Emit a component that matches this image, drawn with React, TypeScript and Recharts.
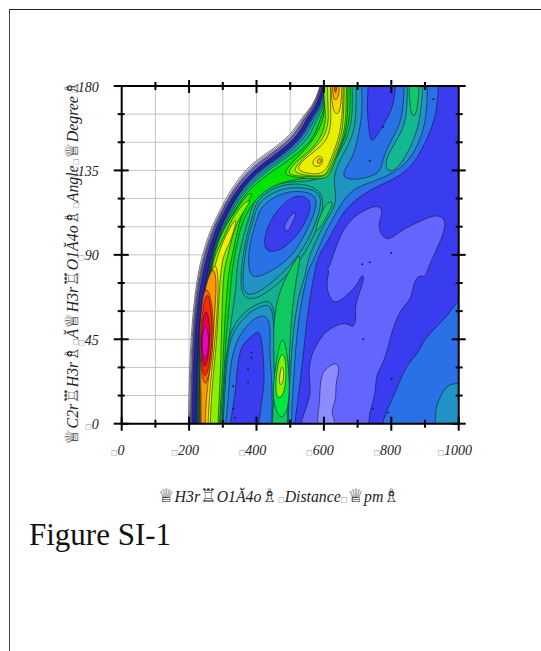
import { CartesianGrid, ScatterChart, Scatter, XAxis, YAxis } from 'recharts';

type Pt = [number, number];

const xTicks = [0, 100, 200, 300, 400, 500, 600, 700, 800, 900, 1000];
const yTicks = [0, 15, 30, 45, 60, 75, 90, 105, 120, 135, 150, 165, 180];

const xTitleParts = ['♕', 'H3r', '♖', 'O1Ă4o', '♗', '▫', 'Distance', '▫', '♕', 'pm', '♗'];
const yTitleParts = ['♕', 'C2r', '♖', 'H3r', '♗', '▫', 'Ă', '♕', 'H3r', '♖', 'O1Ă4o', '♗', '▫', 'Angle', '▫', '♕', 'Degree', '♗'];

// angle rows shared by the left edge of every contour that follows the wall
const edgeAngles = [-5, 20, 36, 57, 76, 89, 103, 114, 124, 134, 140, 149, 156, 163, 167, 172, 180, 190];
const wall1Edge = [197, 200, 203, 210, 222, 237, 262, 292, 321, 361, 395, 470, 509, 534, 554, 573, 590, 598];
const wall2Edge = [200, 203, 206, 213, 225, 241, 266, 296, 326, 367, 402, 476, 514, 538, 557, 575, 591, 599];
const wall3Edge = [203, 206, 209, 215, 228, 244, 269, 299, 329, 372, 410, 483, 519, 542, 560, 577, 592, 600];
const wall4Edge = [205, 208, 211, 217, 230, 246, 271, 301, 331, 376, 415, 487, 522, 544, 562, 579, 593, 600];
const wall5Edge = [208, 211, 214, 220, 235, 251, 276, 306, 338, 386, 428, 497, 530, 550, 567, 583, 596, 602];
const fieldEdge = [220, 222, 225, 232, 250, 262, 288, 318, 350, 398, 445, 512, 540, 560, 577, 590, 600, 606];
const steelEdge = [221, 223, 226, 233, 251, 263, 289, 319, 351, 401, 450, 516, 544, 563, 580, 592, 602, 607];
const tealEdge = [222, 224, 227, 234, 253, 264, 290, 320, 353, 405, 455, 520, 548, 566, 583, 594, 603, 608];
const aquaEdge = [224, 226, 229, 236, 255, 266, 293, 325, 358, 415, 465, 528, 556, 572, 588, 598, 606, 611];
const greenEdge = [226, 228, 231, 238, 257, 268, 296, 330, 365, 425, 475, 540, 565, 580, 594, 602, 610, 615];
const limeEdge = [228, 230, 233, 240, 259, 270, 300, 336, 372, 440, 495, 555, 578, 590, 600, 606, 614, 618];

const farRight: Pt[] = [[1400, 205], [1400, -20]];

const steelRight: Pt[] = [[945, 205], [945, 190], [939, 178], [934, 165], [910, 153], [865, 137], [806, 130], [737, 125], [677, 117], [648, 110], [608, 96], [583, 90], [569, 78], [554, 62], [544, 46], [529, 21], [514, 1], [510, -5], [510, -20]];
const tealRight: Pt[] = [[905, 205], [905, 190], [910, 162], [865, 142], [806, 133], [727, 128], [687, 125], [657, 119], [628, 110], [598, 100], [568, 86], [554, 83], [534, 66], [519, 48], [509, 21], [503, 1], [503, -20]];
const aquaRight: Pt[] = [[695, 205], [695, 190], [697, 165], [687, 153], [648, 141], [628, 132], [633, 125], [638, 117], [608, 109], [578, 98], [554, 89], [544, 78], [529, 71], [514, 57], [504, 39], [497, 18], [494, 1], [494, -20]];
const greenRight: Pt[] = [[682, 205], [682, 190], [687, 165], [672, 153], [638, 142], [613, 135], [598, 131], [549, 129], [470, 129], [400, 123], [381, 112], [361, 100], [348, 90], [340, 80], [341, 75], [331, 62], [319, 48], [306, 21], [297, 1], [297, -20]];
const limeRight: Pt[] = [[677, 205], [677, 190], [680, 165], [665, 153], [635, 142], [608, 134], [560, 131], [500, 130], [420, 125], [366, 112], [346, 100], [335, 90], [325, 78], [318, 60], [310, 48], [302, 21], [292, 1], [292, -20]];

const periwinkle: Pt[] = [[766, 117], [776, 112], [756, 105], [786, 96], [826, 103], [875, 107], [934, 112], [964, 109], [954, 100], [910, 84], [900, 77], [885, 80], [865, 75], [860, 66], [831, 62], [806, 52], [791, 41], [776, 32], [752, 25], [756, 18], [737, 7], [732, 1], [732, -20], [525, -20], [525, -5], [539, 5], [564, 16], [554, 25], [559, 36], [588, 45], [608, 50], [667, 55], [687, 50], [697, 57], [692, 60], [697, 66], [722, 78], [712, 80], [697, 73], [658, 67], [628, 63], [603, 73], [618, 82], [608, 82], [618, 84], [638, 96], [667, 107], [717, 114]];
const lavender: Pt[] = [[588, 9], [588, 25], [608, 30], [638, 33], [648, 29], [633, 21], [638, 13], [618, 6], [638, 1], [633, -20], [590, -20], [578, 4]];
const cornerSteel: Pt[] = [[1400, 70], [1005, 68], [985, 62], [954, 55], [895, 45], [880, 37], [845, 32], [806, 14], [781, 5], [766, -5], [766, -20], [1400, -20]];
const cornerTeal: Pt[] = [[1400, 22], [1005, 22], [965, 21], [944, 14], [930, 8], [930, -5], [930, -20], [1400, -20]];

const steelPatch: Pt[] = [[838, 205], [838, 190], [838, 164], [806, 153], [774, 142], [771, 134], [727, 131], [687, 130], [658, 131], [658, 135], [687, 142], [702, 153], [714, 165], [712, 178], [712, 190], [712, 205]];
const topBlue: Pt[] = [[735, 205], [735, 190], [727, 169], [732, 160], [738, 149], [756, 153], [786, 162], [811, 171], [815, 190], [815, 205]];
const lobeGreen: Pt[] = [[846, 205], [846, 190], [850, 162], [816, 151], [781, 141], [786, 134], [816, 135], [855, 146], [890, 162], [895, 190], [895, 205]];
const lobeInner: Pt[] = [[850, 205], [850, 190], [855, 167], [865, 163], [880, 167], [885, 190], [885, 205]];

const lowerAqua: Pt[] = [[296, -20], [296, -5], [302, 12], [306, 30], [318, 48], [350, 57], [381, 62], [430, 66], [452, 64], [460, 45], [460, -5], [460, -20]];
const lowerTeal: Pt[] = [[297, -20], [297, -5], [306, 12], [309, 30], [321, 46], [351, 54], [381, 60], [430, 64], [448, 62], [455, 45], [455, 20], [455, -5], [455, -20]];
const lowerSteel: Pt[] = [[304, -20], [304, -5], [316, 11], [321, 30], [336, 43], [371, 53], [410, 58], [435, 57], [442, 50], [438, 37], [448, 20], [445, -5], [445, -20]];
const lowerBlue: Pt[] = [[321, -20], [321, 2], [336, 13], [341, 27], [351, 41], [381, 46], [405, 50], [415, 46], [420, 36], [425, 21], [410, 7], [396, -20]];

const holeAqua: Pt[] = [[350, 72], [368, 66], [410, 67], [475, 76], [525, 86], [560, 96], [590, 108], [605, 122], [556, 128], [470, 128], [402, 120], [392, 113], [370, 100], [358, 88]];
const holeTeal: Pt[] = [[356, 73], [371, 68], [410, 70], [470, 79], [519, 88], [554, 98], [583, 110], [598, 122], [554, 126], [470, 126], [405, 118], [396, 112], [376, 100], [365, 90]];
const holeSteel: Pt[] = [[376, 92], [376, 80], [400, 77], [470, 84], [520, 92], [569, 110], [583, 120], [554, 124], [480, 124], [420, 117], [405, 112], [386, 100]];
const holeBlue: Pt[] = [[420, 91], [425, 103], [460, 114], [509, 122], [554, 121], [564, 115], [539, 105], [509, 98], [470, 92]];
const holeIslet: Pt[] = [[478, 104], [490, 108], [510, 113], [520, 112], [505, 107], [495, 102]];
const centerLobe: Pt[] = [[574, 103], [598, 116], [623, 119], [628, 117], [598, 107], [578, 102]];

const lowerGreen: Pt[] = [[445, -20], [445, -5], [450, 10], [455, 20], [452, 30], [450, 50], [455, 60], [470, 72], [510, 86], [535, 92], [520, 80], [505, 60], [498, 40], [495, 20], [490, -5], [490, -20]];
const lowerLime: Pt[] = [[445, 13], [455, 30], [475, 49], [491, 39], [499, 21], [494, 7], [470, 1]];
const lowerYellowGreen: Pt[] = [[455, 15], [460, 30], [475, 39], [489, 34], [487, 18], [470, 13]];
const lowerYellow: Pt[] = [[465, 20], [472, 31], [482, 30], [480, 21]];

const brightLeft: Pt[] = [[229, -20], [229, -5], [231, 20], [234, 36], [241, 57], [260, 76], [271, 89], [298, 103], [340, 114], [375, 123], [392, 123], [365, 116], [345, 105], [331, 92], [316, 80], [308, 60], [304, 48], [298, 21], [289, 1], [289, -20]];
const yellowGreenLeft: Pt[] = [[230, -20], [230, -5], [232, 20], [235, 36], [242, 57], [262, 76], [273, 89], [297, 97], [321, 107], [351, 116], [391, 121], [361, 113], [336, 105], [321, 94], [306, 84], [300, 75], [296, 48], [292, 21], [285, 1], [285, -20]];
const yellowLeft: Pt[] = [[232, -20], [232, -5], [234, 20], [237, 36], [240, 57], [264, 76], [284, 89], [306, 100], [343, 111], [336, 105], [321, 96], [300, 90], [290, 75], [284, 48], [272, 27], [262, 4], [262, -20]];
const amberLeft: Pt[] = [[234, -20], [234, -5], [233, 20], [231, 36], [238, 57], [260, 78], [278, 87], [288, 78], [284, 62], [279, 48], [267, 28], [257, 8], [253, -20]];
const orangeLeft: Pt[] = [[236, -20], [236, -5], [235, 20], [233, 48], [242, 68], [257, 78], [272, 84], [282, 77], [277, 62], [272, 48], [262, 30], [252, 16], [247, 1], [247, -20]];
const vermilionLeft: Pt[] = [[250, 74], [268, 66], [274, 48], [265, 30], [248, 18], [235, 28], [229, 46], [238, 66]];
const redLeft: Pt[] = [[254, 71], [264, 64], [270, 48], [262, 32], [247, 23], [237, 30], [232, 46], [240, 62]];
const crimsonLeft: Pt[] = [[252, 63], [264, 50], [257, 34], [244, 28], [234, 41], [240, 55]];
const magentaLeft: Pt[] = [[249, 54], [260, 46], [256, 38], [244, 32], [238, 41], [240, 48]];

const brightTop: Pt[] = [[470, 132], [505, 139], [555, 148], [585, 156], [603, 165], [600, 175], [600, 205], [672, 205], [672, 165], [662, 153], [636, 142], [620, 133], [598, 130], [549, 131]];
const yellowGreenTop: Pt[] = [[490, 134], [519, 140], [564, 146], [593, 153], [608, 162], [600, 172], [598, 190], [598, 205], [667, 205], [667, 190], [667, 165], [658, 153], [633, 142], [618, 135], [598, 131], [549, 132], [509, 132]];
const paleYellowTop: Pt[] = [[505, 134], [525, 139], [566, 146], [600, 152], [616, 161], [610, 172], [610, 205], [662, 205], [660, 165], [652, 153], [628, 142], [610, 134], [598, 132], [555, 132]];
const yellowTop: Pt[] = [[519, 135], [529, 139], [569, 145], [608, 150], [623, 160], [618, 171], [623, 190], [623, 205], [658, 205], [658, 190], [656, 165], [646, 153], [623, 142], [603, 133], [559, 133]];
const peakOuter: Pt[] = [[564, 140], [588, 144], [600, 140], [588, 137], [569, 137]];
const peakInner: Pt[] = [[577, 140], [588, 142], [594, 140], [586, 138]];
const topOrangeOuter: Pt[] = [[618, 205], [618, 190], [623, 169], [636, 164], [652, 167], [655, 190], [655, 205]];
const topOrange: Pt[] = [[623, 205], [623, 190], [626, 174], [633, 172], [646, 174], [648, 190], [648, 205]];
const topRed: Pt[] = [[630, 205], [630, 190], [631, 176], [638, 176], [641, 190], [641, 205]];

const specks: Pt[] = [[331, 8], [336, 3], [385, 38], [385, 35], [375, 29], [375, 22], [331, 20], [717, 45], [791, 6], [801, 24], [746, 8], [714, 85], [736, 140], [775, 158], [925, 173], [800, 91], [736, 86]];

const frame: Pt[] = [[0, 0], [1000, 0], [1000, 180], [0, 180]];

const zip = (edge: number[]): Pt[] => edge.map((d, i) => [d, edgeAngles[i]] as Pt);
const edgeStart = (edge: number[]): Pt[] => [[edge[0], -20], ...zip(edge), [edge[edge.length - 1], 205]];

const layers: { pts: Pt[]; fill: string }[] = [
  { pts: [...edgeStart(wall1Edge), ...farRight], fill: '#f4f4f8' },
  { pts: [...edgeStart(wall2Edge), ...farRight], fill: '#d4d4e8' },
  { pts: [...edgeStart(wall3Edge), ...farRight], fill: '#a8a8d8' },
  { pts: [...edgeStart(wall4Edge), ...farRight], fill: '#6c6cc0' },
  { pts: [...edgeStart(wall5Edge), ...farRight], fill: '#24249c' },
  { pts: [...edgeStart(fieldEdge), ...farRight], fill: '#3a3cf0' },
  { pts: periwinkle, fill: '#6464ff' },
  { pts: lavender, fill: '#8c8cff' },
  { pts: cornerSteel, fill: '#2a70e6' },
  { pts: cornerTeal, fill: '#2094c4' },
  { pts: [...edgeStart(steelEdge), ...steelRight], fill: '#2a70e6' },
  { pts: [...edgeStart(tealEdge), ...tealRight], fill: '#2094c4' },
  { pts: steelPatch, fill: '#2a70e6' },
  { pts: topBlue, fill: '#3a3cf0' },
  { pts: lobeGreen, fill: '#14b890' },
  { pts: lobeInner, fill: '#12c868' },
  { pts: [...edgeStart(aquaEdge), ...aquaRight], fill: '#14b090' },
  { pts: [...edgeStart(greenEdge), ...greenRight], fill: '#10c860' },
  { pts: lowerAqua, fill: '#14a8a0' },
  { pts: lowerTeal, fill: '#2094c4' },
  { pts: lowerSteel, fill: '#2a70e6' },
  { pts: lowerBlue, fill: '#3a3cf0' },
  { pts: holeAqua, fill: '#14a8a0' },
  { pts: holeTeal, fill: '#2094c4' },
  { pts: holeSteel, fill: '#2a70e6' },
  { pts: holeBlue, fill: '#3a3cf0' },
  { pts: holeIslet, fill: '#6464ff' },
  { pts: centerLobe, fill: '#12c868' },
  { pts: lowerGreen, fill: '#10c860' },
  { pts: lowerLime, fill: '#00e840' },
  { pts: lowerYellowGreen, fill: '#88f000' },
  { pts: lowerYellow, fill: '#d8f020' },
  { pts: [...edgeStart(limeEdge), ...limeRight], fill: '#00e400' },
  { pts: brightLeft, fill: '#40e800' },
  { pts: brightTop, fill: '#40e800' },
  { pts: yellowGreenLeft, fill: '#88f000' },
  { pts: yellowGreenTop, fill: '#88f000' },
  { pts: paleYellowTop, fill: '#c8f000' },
  { pts: yellowLeft, fill: '#f0f000' },
  { pts: yellowTop, fill: '#e8f000' },
  { pts: peakOuter, fill: '#f8e800' },
  { pts: peakInner, fill: '#f8b000' },
  { pts: topOrangeOuter, fill: '#f8d800' },
  { pts: topOrange, fill: '#ffa800' },
  { pts: topRed, fill: '#ff4800' },
  { pts: amberLeft, fill: '#ffd000' },
  { pts: orangeLeft, fill: '#ff9800' },
  { pts: vermilionLeft, fill: '#ff6000' },
  { pts: redLeft, fill: '#ff2800' },
  { pts: crimsonLeft, fill: '#e80050' },
  { pts: magentaLeft, fill: '#f000c0' },
];

const toPoints = (pts: Pt[]) => pts.map(([d, a]) => ({ d, a }));
const NoDot = () => <g />;
const Speck = (p: any) => <circle cx={p.cx} cy={p.cy} r={1} fill="#1a1a50" />;

const tickStyle = { fontFamily: '"Liberation Serif"', fontStyle: 'italic', fontSize: 14, fill: '#222' };

function TickText({ x, y, value, anchor }: { x: number; y: number; value: number; anchor: 'middle' | 'end' }) {
  return (
    <text x={x} y={y} textAnchor={anchor} style={tickStyle}>
      <tspan fontFamily='"DejaVu Sans"' fontStyle="normal" fontSize={7} fill="#888">□</tspan>
      {value}
    </text>
  );
}

function BottomLabel({ x, y, payload }: any) {
  if (payload.value % 200 !== 0) return <g />;
  return <TickText x={x - 4} y={y + 31} value={payload.value} anchor="middle" />;
}

function LeftLabel({ x, y, payload }: any) {
  if (payload.value % 45 !== 0) return <g />;
  return <TickText x={x - 23} y={y + 5.5} value={payload.value} anchor="end" />;
}

const line = (x1: number, y1: number, x2: number, y2: number) => (
  <line x1={x1} y1={y1} x2={x2} y2={y2} stroke="#000" strokeWidth={2} />
);

// tick marks are drawn as series so they sit on top of the filled contours
const BottomMark = ({ cx, cy, d }: any) => (d % 200 === 0 ? line(cx, cy - 7, cx, cy + 7) : line(cx, cy - 4, cx, cy + 4));
const TopMark = ({ cx, cy, d }: any) => (d % 200 === 0 ? line(cx, cy - 6, cx, cy + 7) : line(cx, cy - 4, cx, cy + 4));
const LeftMark = ({ cx, cy, a }: any) => (a % 45 === 0 ? line(cx - 8, cy, cx + 7, cy) : line(cx - 4, cy, cx + 3, cy));
const RightMark = ({ cx, cy, a }: any) => (a % 45 === 0 ? line(cx - 7, cy, cx + 7, cy) : line(cx - 3, cy, cx + 4, cy));

function Title({ parts, ...rest }: { parts: string[]; [k: string]: any }) {
  return (
    <text {...rest} style={{ ...tickStyle, fontSize: 15.8 }}>
      {parts.map((part, i) => {
        if ('♕♖♗'.includes(part)) {
          return <tspan key={i} fontFamily='"DejaVu Sans"' fontStyle="normal" fontSize={18.5}>{part}</tspan>;
        }
        if (part === '▫') {
          return <tspan key={i} fontFamily='"DejaVu Sans"' fontStyle="normal" fontSize={7} fill="#888">□</tspan>;
        }
        return <tspan key={i}>{part}</tspan>;
      })}
    </text>
  );
}

export default function App() {
  const markProps = { xAxisId: 'top', yAxisId: 'right', isAnimationActive: false };
  return (
    <div style={{ position: 'absolute', left: 0, top: 0, width: 541, height: 651, overflow: 'hidden', background: '#fff' }}>
      <div style={{ position: 'absolute', left: 9, top: 9, width: 540, height: 650, borderTop: '1px solid #222', borderLeft: '1px solid #444' }} />
      <ScatterChart
        width={541}
        height={651}
        margin={{ left: 120.7, top: 85, right: 81.3, bottom: 226.3 }}
        style={{ position: 'absolute', left: 0, top: 0 }}
      >
        <XAxis dataKey="d" type="number" domain={[0, 1000]} ticks={xTicks} interval={0} height={1} allowDataOverflow axisLine={false} tickLine={false} tickSize={0} tickMargin={0} tick={BottomLabel} />
        <XAxis dataKey="d" xAxisId="top" orientation="top" type="number" domain={[0, 1000]} ticks={xTicks} height={1} axisLine={false} tickLine={false} tick={false} />
        <YAxis dataKey="a" type="number" domain={[0, 180]} ticks={yTicks} interval={0} width={1} allowDataOverflow axisLine={false} tickLine={false} tickSize={0} tickMargin={0} tick={LeftLabel} />
        <YAxis dataKey="a" yAxisId="right" orientation="right" type="number" domain={[0, 180]} ticks={yTicks} width={1} axisLine={false} tickLine={false} tick={false} />
        <CartesianGrid stroke="#d0d0d0" strokeWidth={1} />
        {layers.map((layer, i) => (
          <Scatter
            key={i}
            data={toPoints(layer.pts)}
            fill={layer.fill}
            line={{ fill: layer.fill, stroke: '#14142c', strokeWidth: 0.7, strokeOpacity: 0.8 }}
            lineJointType="basisClosed"
            shape={NoDot}
            isAnimationActive={false}
          />
        ))}
        <Scatter data={toPoints(specks)} shape={Speck} isAnimationActive={false} />
        <CartesianGrid stroke="#000" strokeOpacity={0.06} strokeWidth={1} />
        <Scatter {...markProps} data={toPoints(frame)} line={{ fill: 'none', stroke: '#000', strokeWidth: 2 }} lineJointType="linearClosed" shape={NoDot} />
        <Scatter {...markProps} data={xTicks.map((d) => ({ d, a: 0 }))} shape={BottomMark} />
        <Scatter {...markProps} data={xTicks.slice(1, -1).map((d) => ({ d, a: 180 }))} shape={TopMark} />
        <Scatter {...markProps} data={yTicks.map((a) => ({ d: 0, a }))} shape={LeftMark} />
        <Scatter {...markProps} data={yTicks.map((a) => ({ d: 1000, a }))} shape={RightMark} />
        <Title parts={xTitleParts} x={158} y={502} />
        <Title parts={yTitleParts} transform="translate(78,445) rotate(-90)" x={0} y={0} />
      </ScatterChart>
      <div style={{ position: 'absolute', left: 29, top: 517, fontFamily: '"Liberation Serif"', fontSize: 31, lineHeight: '36px', color: '#111' }}>
        Figure SI-1
      </div>
    </div>
  );
}
